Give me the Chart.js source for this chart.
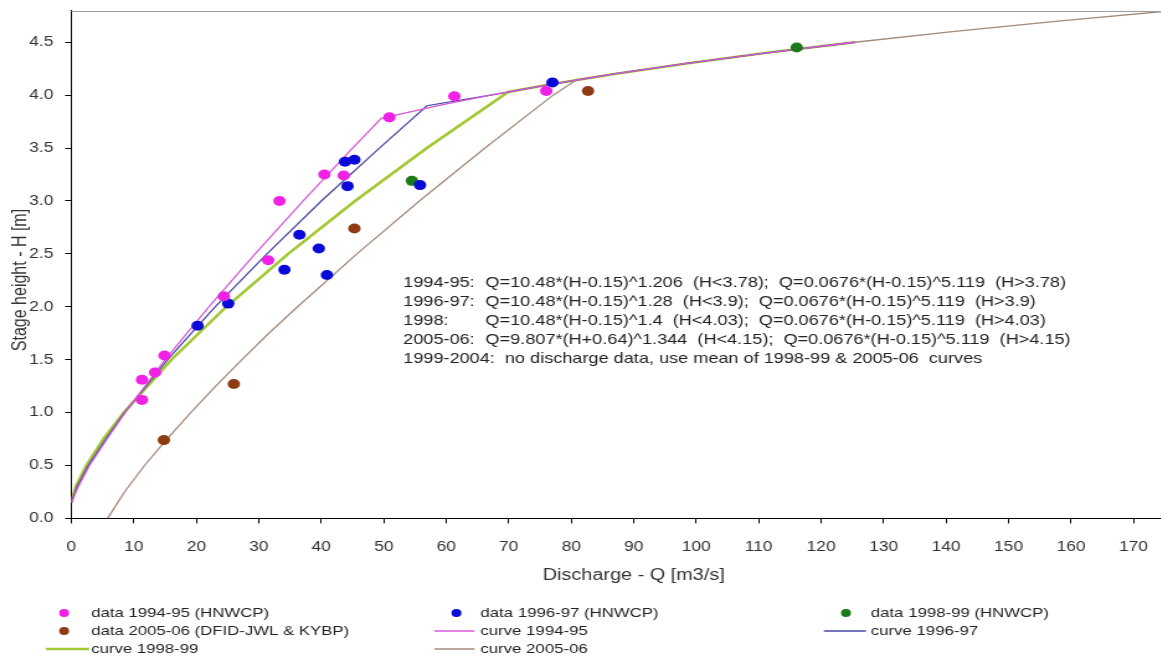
<!DOCTYPE html>
<html>
<head>
<meta charset="utf-8">
<title>Stage-discharge rating curves</title>
<script src="https://cdn.jsdelivr.net/npm/chart.js@4.4.1/dist/chart.umd.min.js"></script>
<style>
  html, body { margin: 0; padding: 0; background: #fff; overflow: hidden; width: 1161px; height: 661px; }
  /* the chart is drawn narrow and widened horizontally, like the original export */
  #frame { position: absolute; left: 0; top: 0; width: 968.5px; height: 661px;
           transform: scaleX(1.24); transform-origin: 0 0; }
</style>
</head>
<body>
<div id="frame"><canvas id="rating"></canvas></div>
<script>
// ---- axis ticks ----
const xTicks = [0, 10, 20, 30, 40, 50, 60, 70, 80, 90, 100, 110, 120, 130, 140, 150, 160, 170];
const yTicks = [0, 0.5, 1.0, 1.5, 2.0, 2.5, 3.0, 3.5, 4.0, 4.5];

// ---- gauged discharge measurements (Q in m3/s, H in m) ----
const data9495Q = [11.3, 11.3, 13.4, 14.9, 24.4, 31.5, 33.3, 40.5, 43.6, 50.9, 61.3, 76.0];
const data9495H = [1.12, 1.31, 1.38, 1.54, 2.10, 2.44, 3.00, 3.25, 3.24, 3.79, 3.99, 4.04];

const data9697Q = [20.2, 25.1, 34.1, 36.5, 39.6, 40.9, 43.8, 45.3, 44.2, 55.8, 77.0];
const data9697H = [1.82, 2.03, 2.35, 2.68, 2.55, 2.30, 3.37, 3.39, 3.14, 3.15, 4.12];

const data9899Q = [54.5, 116.1];
const data9899H = [3.19, 4.45];

const data0506Q = [14.8, 26.0, 45.3, 82.7];
const data0506H = [0.74, 1.27, 2.74, 4.04];

// ---- fitted rating curves ----
const curve9495H = [0.15, 0.3, 0.5, 0.75, 1.0, 1.5, 2.0, 2.5, 3.0, 3.5, 3.78, 3.9, 4.0, 4.1, 4.2, 4.3, 4.4, 4.5];
const curve9495Q = [0, 1.1, 2.9, 5.7, 8.6, 15.0, 22.0, 29.4, 37.1, 45.0, 49.6, 58.7, 67.1, 76.5, 86.9, 98.5, 111.3, 125.4];

const curve9697H = [0.15, 0.3, 0.5, 0.75, 1.0, 1.5, 2.0, 2.5, 3.0, 3.5, 3.9, 4.0, 4.1, 4.2, 4.3, 4.4, 4.5];
const curve9697Q = [0, 0.9, 2.7, 5.5, 8.5, 15.4, 23.0, 31.3, 40.0, 49.3, 56.9, 67.1, 76.5, 86.9, 98.5, 111.3, 125.4];

const curve9899H = [0.15, 0.3, 0.5, 0.75, 1.0, 1.5, 2.0, 2.5, 3.0, 3.5, 4.03, 4.1, 4.2, 4.3, 4.4, 4.5];
const curve9899Q = [0, 0.7, 2.4, 5.1, 8.4, 16.0, 24.8, 34.7, 45.4, 56.9, 69.9, 76.5, 86.9, 98.5, 111.3, 125.4];

const curve0506H = [0, 0.25, 0.5, 0.75, 1.0, 1.25, 1.5, 1.75, 2.0, 2.5, 3.0, 3.5, 4.0, 4.15, 4.2, 4.3, 4.4, 4.5, 4.6, 4.7, 4.8];
const curve0506Q = [5.8, 8.5, 11.7, 15.3, 19.1, 23.1, 27.3, 31.6, 36.2, 45.7, 55.7, 66.2, 77.1, 81.0, 86.9, 98.5, 111.3, 125.4, 141.0, 157.9, 176.4];

// ---- equation notes ----
const equationLabels = ['1994-95:', '1996-97:', '1998:', '2005-06:'];
const equationTexts = [
  'Q=10.48*(H-0.15)^1.206  (H<3.78);  Q=0.0676*(H-0.15)^5.119  (H>3.78)',
  'Q=10.48*(H-0.15)^1.28  (H<3.9);  Q=0.0676*(H-0.15)^5.119  (H>3.9)',
  'Q=10.48*(H-0.15)^1.4  (H<4.03);  Q=0.0676*(H-0.15)^5.119  (H>4.03)',
  'Q=9.807*(H+0.64)^1.344  (H<4.15);  Q=0.0676*(H-0.15)^5.119  (H>4.15)'
];
const noteLine = '1999-2004:  no discharge data, use mean of 1998-99 & 2005-06  curves';

const FONT = "'Liberation Sans', Arial, Helvetica, sans-serif";
const pts = (qs, hs) => qs.map((q, i) => ({ x: q, y: hs[i] }));

function pointSet(label, q, h, color) {
  return { label, data: pts(q, h), showLine: false, backgroundColor: color, borderColor: color,
           pointRadius: 5, pointBorderWidth: 0, pointHoverRadius: 5 };
}
function curveSet(label, q, h, color, width) {
  return { label, data: pts(q, h), showLine: true, borderColor: color, backgroundColor: color,
           borderWidth: width, pointRadius: 0, pointHoverRadius: 0, tension: 0, fill: false };
}

// equations, legend, vertical axis title and frame line
const decor = {
  id: 'decor',
  afterDraw(chart) {
    const ctx = chart.ctx;
    const area = chart.chartArea;
    ctx.save();

    // upper frame line
    ctx.strokeStyle = '#9c9c9c';
    ctx.lineWidth = 1;
    ctx.beginPath();
    ctx.moveTo(area.left, Math.round(area.top) + 0.5);
    ctx.lineTo(area.right, Math.round(area.top) + 0.5);
    ctx.stroke();

    // vertical axis title
    ctx.fillStyle = '#333';
    ctx.font = '16px ' + FONT;
    ctx.textAlign = 'center';
    ctx.textBaseline = 'middle';
    ctx.save();
    ctx.translate(16.1, 280);
    ctx.rotate(-Math.PI / 2);
    ctx.fillText('Stage height - H [m]', 0, 0);
    ctx.restore();

    // equations
    ctx.font = '14.6px ' + FONT;
    ctx.textAlign = 'left';
    ctx.fillStyle = '#222';
    const rowY = [283.3, 302.1, 320.9, 339.7, 358.5];
    equationLabels.forEach((lab, i) => {
      ctx.fillText(lab, 324.8, rowY[i]);
      ctx.fillText(equationTexts[i], 391.1, rowY[i]);
    });
    ctx.fillText(noteLine, 324.8, rowY[4]);

    // legend in three columns
    const cols = [
      { dot: 51.6, text: 73.4, l0: 37.1, l1: 71.8 },
      { dot: 367.7, text: 387.1, l0: 350.0, l1: 382.3 },
      { dot: 681.5, text: 701.6, l0: 663.7, l1: 697.6 }
    ];
    const rows = [613, 631, 649];
    ctx.font = '13.5px ' + FONT;
    chart.data.datasets.forEach((ds, i) => {
      const c = cols[i % 3];
      const y = rows[Math.floor(i / 3)];
      if (ds.showLine) {
        ctx.strokeStyle = ds.borderColor;
        ctx.lineWidth = ds.borderWidth;
        ctx.beginPath();
        ctx.moveTo(c.l0, y);
        ctx.lineTo(c.l1, y);
        ctx.stroke();
      } else {
        ctx.fillStyle = ds.backgroundColor;
        ctx.beginPath();
        ctx.arc(c.dot, y, 4, 0, Math.PI * 2);
        ctx.fill();
      }
      ctx.fillStyle = '#222';
      ctx.fillText(ds.label, c.text, y);
    });
    ctx.restore();
  }
};

new Chart(document.getElementById('rating'), {
  type: 'scatter',
  data: {
    datasets: [
      pointSet('data 1994-95 (HNWCP)', data9495Q, data9495H, '#f020e4'),
      pointSet('data 1996-97 (HNWCP)', data9697Q, data9697H, '#0a0ad8'),
      pointSet('data 1998-99 (HNWCP)', data9899Q, data9899H, '#1c7a1c'),
      pointSet('data 2005-06 (DFID-JWL & KYBP)', data0506Q, data0506H, '#8e3a12'),
      curveSet('curve 1994-95', curve9495Q, curve9495H, '#d65ad6', 1.3),
      curveSet('curve 1996-97', curve9697Q, curve9697H, '#4848a4', 1.3),
      curveSet('curve 1998-99', curve9899Q, curve9899H, '#a2c832', 2.6),
      curveSet('curve 2005-06', curve0506Q, curve0506H, '#a48a7a', 1.3)
    ]
  },
  options: {
    responsive: true,
    maintainAspectRatio: false,
    animation: false,
    events: [],
    layout: { padding: { top: 10.5, left: 0, right: 0, bottom: 70 } },
    plugins: { legend: { display: false }, tooltip: { enabled: false } },
    scales: {
      x: {
        type: 'linear', min: 0, max: 180,
        afterBuildTicks: axis => { axis.ticks = xTicks.map(v => ({ value: v })); },
        afterFit: s => { s.height = 72.6; s.paddingLeft = 0; s.paddingRight = 0; },
        ticks: { font: { family: FONT, size: 14 }, color: '#333', padding: 15, maxRotation: 0, autoSkip: false },
        grid: { drawOnChartArea: false, drawTicks: true, tickLength: 5, color: '#000' },
        border: { display: true, color: '#000', width: 1 },
        title: { display: true, text: 'Discharge - Q [m3/s]', color: '#333',
                 font: { family: FONT, size: 16 }, padding: { top: 0, bottom: 5.4 } }
      },
      y: {
        type: 'linear', min: 0, max: 4.8,
        afterBuildTicks: axis => { axis.ticks = yTicks.map(v => ({ value: v })); },
        afterFit: s => { s.width = 57.5; s.paddingTop = 0; s.paddingBottom = 0; },
        ticks: { font: { family: FONT, size: 14 }, color: '#333', padding: 9.5,
                 callback: v => Number(v).toFixed(1) },
        grid: { drawOnChartArea: false, drawTicks: true, tickLength: 5, color: '#000' },
        border: { display: true, color: '#000', width: 1 }
      }
    }
  },
  plugins: [decor]
});
</script>
</body>
</html>
